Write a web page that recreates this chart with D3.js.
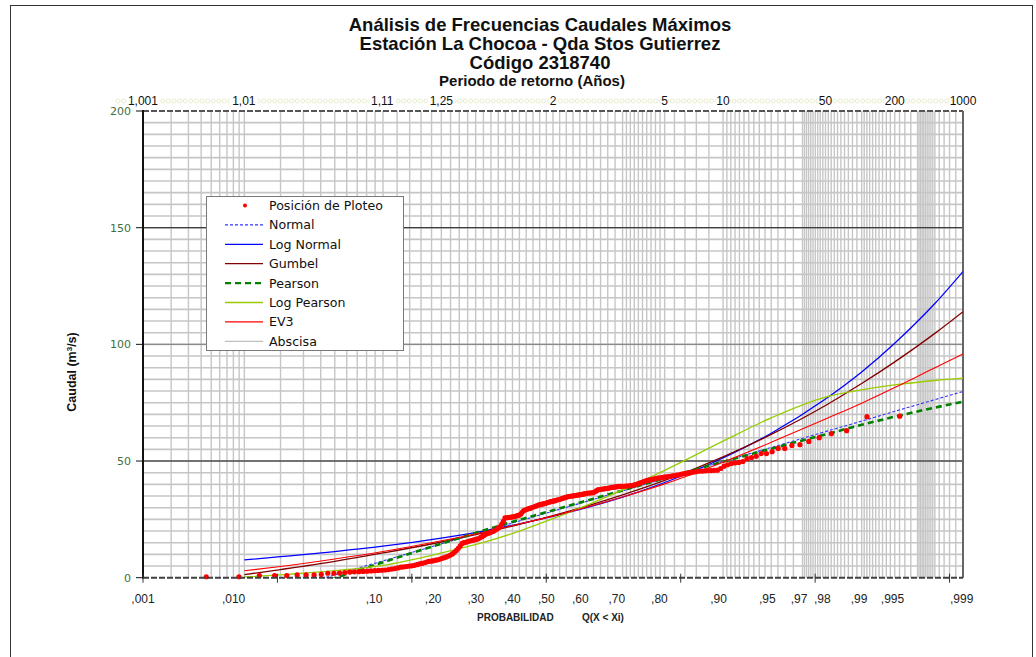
<!DOCTYPE html>
<html><head><meta charset="utf-8">
<script src="https://cdn.jsdelivr.net/npm/d3@7"></script>
<style>body{margin:0;background:#fff}svg{display:block}</style>
</head><body><svg id="c" width="1036" height="657"></svg>
<script>
// ---------------- DATA ----------------
// Observed maxima sorted ascending (plotted at Weibull position i/(n+1))
const plotPositionValues = [
 0.4,0.4,0.9,0.9,0.9,1.2,1.2,1.2,1.4,1.9,1.9,2.0,2.2,2.4,2.5,2.6,2.7,2.8,2.9,3.0,
 3.1,3.2,3.3,3.5,3.7,3.9,4.2,4.5,4.6,4.8,5.0,5.1,5.3,5.6,5.9,6.1,6.4,6.7,7.0,7.1,
 7.3,7.5,7.7,8.0,8.3,8.6,8.9,9.3,9.7,10.2,10.9,11.7,12.6,13.6,14.7,15.0,15.2,15.5,15.7,15.9,
 16.1,16.3,16.5,16.7,17.2,17.6,18.0,18.5,18.9,19.1,19.4,19.7,20.0,20.4,20.9,21.4,21.9,23.0,24.2,25.6,
 25.7,25.8,25.9,26.0,26.1,26.2,26.4,26.6,26.8,27.2,28.0,28.8,29.0,29.3,29.5,29.7,29.9,30.2,30.4,30.7,
 30.9,31.2,31.3,31.5,31.6,31.8,32.0,32.2,32.4,32.6,32.7,32.9,33.0,33.3,33.4,33.6,33.8,34.0,34.2,34.4,
 34.7,34.8,34.9,35.0,35.1,35.2,35.3,35.4,35.5,35.6,35.7,35.9,36.0,36.2,36.3,36.3,36.4,36.4,36.8,37.2,
 37.6,37.8,37.9,38.0,38.1,38.2,38.3,38.4,38.6,38.7,38.8,38.9,39.0,39.1,39.1,39.2,39.2,39.3,39.3,39.4,
 39.5,39.6,39.8,40.0,40.3,40.6,40.9,41.2,41.5,41.7,41.9,42.1,42.3,42.5,42.7,42.8,42.9,43.1,43.2,43.3,
 43.4,43.6,43.8,44.0,44.1,44.4,44.6,44.8,44.9,45.2,45.3,45.5,45.7,45.7,45.8,45.9,45.9,46.0,46.1,46.8,
 47.8,48.4,48.9,49.2,49.4,49.8,51.0,51.5,52.0,53.2,53.2,54.0,55.4,55.4,56.7,57.0,58.4,60.0,61.7,63.0,69.0,69.2
];
const fitProbs   = [0.01,0.02,0.05,0.1,0.2,0.3,0.4,0.5,0.6,0.7,0.8,0.9,0.95,0.98,0.99,0.995,0.998,0.999];
const normalVals = [-10.1,-5.6,1.2,7.2,14.5,19.8,24.3,28.5,32.7,37.2,42.5,49.8,55.8,62.6,67.1,71.3,76.3,79.8];
const logNormalVals = [7.6,9.0,11.2,13.5,17.0,20.0,23.1,26.3,30.0,34.5,40.8,51.3,61.9,76.6,88.2,100.5,117.5,131.2];
const gumbelVals = [1.3,3.5,7.0,10.6,15.3,19.2,22.9,26.6,30.7,35.5,41.7,51.8,61.4,73.8,83.2,92.5,104.7,114.0];
const pearsonVals = [-12.5,-7.6,-0.2,6.6,14.6,20.2,24.8,28.9,33.0,37.4,42.6,49.7,55.3,61.4,65.5,69.0,72.9,75.4];
const logPearsonVals = [0.3,1.2,3.0,5.3,10.6,15.1,20.0,25.3,31.0,37.6,46.0,58.5,68.5,77.4,80.5,82.6,84.5,85.5];
const ev3Vals = [3.0,4.8,8.0,11.2,15.8,19.5,23.0,26.4,30.2,34.6,40.2,49.5,58.0,68.0,74.8,81.5,90.0,95.9];

const probTickValues = [0.001,0.01,0.1,0.2,0.3,0.4,0.5,0.6,0.7,0.8,0.9,0.95,0.97,0.98,0.99,0.995,0.999];
const probTickLabels = [",001",",010",",10",",20",",30",",40",",50",",60",",70",",80",",90",",95",",97",",98",",99",",995",",999"];
const returnPeriods = [1.001,1.01,1.11,1.25,2,5,10,50,200,1000];
const returnLabels = ["1,001","1,01","1,11","1,25","2","5","10","50","200","1000"];
const yTicks = [0,50,100,150,200];
const axisZTicks = [-3,-2,-1,0,1,2,3];
// probability grid ranges [start, end, step]
const gridRanges = [[0.001,0.01,0.001],[0.01,0.1,0.01],[0.1,0.7,0.02],[0.7,0.8,0.01],[0.8,0.9,0.02],
  [0.9,0.97,0.005],[0.97,0.99,0.001],[0.99,0.997,0.0005],[0.997,0.998,0.0001],[0.998,0.999,0.0002]];

const seriesDefs = [
 {name:"Normal", vals:normalVals, color:"#3333ff", w:1.1, dash:"3,2"},
 {name:"Log Normal", vals:logNormalVals, color:"#0000ff", w:1.3, dash:null},
 {name:"Gumbel", vals:gumbelVals, color:"#800000", w:1.3, dash:null},
 {name:"Pearson", vals:pearsonVals, color:"#008000", w:2.6, dash:"6,4"},
 {name:"Log Pearson", vals:logPearsonVals, color:"#99cc00", w:1.3, dash:null},
 {name:"EV3", vals:ev3Vals, color:"#ff0000", w:1.1, dash:null}
];

// ---------------- SCALES ----------------
function probit(p){
 const a=[-3.969683028665376e+01,2.209460984245205e+02,-2.759285104469687e+02,1.383577518672690e+02,-3.066479806614716e+01,2.506628277459239e+00];
 const b=[-5.447609879822406e+01,1.615858368580409e+02,-1.556989798598866e+02,6.680131188771972e+01,-1.328068155288572e+01];
 const c=[-7.784894002430293e-03,-3.223964580411365e-01,-2.400758277161838e+00,-2.549732539343734e+00,4.374664141464968e+00,2.938163982698783e+00];
 const d=[7.784695709041462e-03,3.224671290700398e-01,2.445134137142996e+00,3.754408661907416e+00];
 const pl=0.02425, ph=1-pl; let q,r;
 if(p<pl){q=Math.sqrt(-2*Math.log(p));return (((((c[0]*q+c[1])*q+c[2])*q+c[3])*q+c[4])*q+c[5])/((((d[0]*q+d[1])*q+d[2])*q+d[3])*q+1);}
 if(p<=ph){q=p-0.5;r=q*q;return (((((a[0]*r+a[1])*r+a[2])*r+a[3])*r+a[4])*r+a[5])*q/(((((b[0]*r+b[1])*r+b[2])*r+b[3])*r+b[4])*r+1);}
 q=Math.sqrt(-2*Math.log(1-p));return -(((((c[0]*q+c[1])*q+c[2])*q+c[3])*q+c[4])*q+c[5])/((((d[0]*q+d[1])*q+d[2])*q+d[3])*q+1);
}
const L=143, R=963, T=111, B=577.7;
const zScale = d3.scaleLinear().domain([probit(0.001), probit(0.999)]).range([L, R]);
const x = p => zScale(probit(p));
const axisScale = d3.scaleLinear().domain([-3, 3.1]).range([L, R]).clamp(true);
const y = d3.scaleLinear().domain([0, 200]).range([B, T]);

const svg = d3.select("#c");
svg.append("rect").attr("x",10.5).attr("y",5.5).attr("width",1022).attr("height",660).attr("fill","#fff").attr("stroke","#333").attr("stroke-width",1);

// ---------------- GRID ----------------
const gridProbs = [];
gridRanges.forEach(([s,e,st])=>{ const n=Math.round((e-s)/st); for(let k=0;k<=n;k++) gridProbs.push(+(s+k*st).toFixed(5)); });
const g = svg.append("g");
g.selectAll("line.vg").data(Array.from(new Set(gridProbs))).join("line").attr("class","vg")
 .attr("x1",d=>x(d)).attr("x2",d=>x(d)).attr("y1",T).attr("y2",B)
 .attr("stroke","#c6c6c6").attr("stroke-width",1.4);
g.selectAll("line.hg").data(d3.range(5,200,5)).join("line").attr("class","hg")
 .attr("x1",L).attr("x2",R).attr("y1",d=>y(d)).attr("y2",d=>y(d))
 .attr("stroke","#c6c6c6").attr("stroke-width",1.6);
g.selectAll("line.major").data([50,100,150]).join("line").attr("class","major")
 .attr("x1",L).attr("x2",R).attr("y1",d=>y(d)).attr("y2",d=>y(d))
 .attr("stroke",d=>d===100?"#8a8a8a":"#111").attr("stroke-width",d=>d===100?1.4:1.1);

// frame lines
svg.append("line").attr("x1",L).attr("x2",R).attr("y1",T).attr("y2",T).attr("stroke","#555").attr("stroke-width",2).attr("stroke-dasharray","6,2");
svg.append("line").attr("x1",R).attr("x2",R).attr("y1",T).attr("y2",B).attr("stroke","#666").attr("stroke-width",2);

// ---------------- CURVES ----------------
svg.append("clipPath").attr("id","clip").append("rect").attr("x",L).attr("y",T).attr("width",R-L).attr("height",B-T);
const line = d3.line().x(d=>x(d[0])).y(d=>y(d[1])).curve(d3.curveMonotoneX);
const cg = svg.append("g").attr("clip-path","url(#clip)");
seriesDefs.forEach(s=>{
  cg.append("path").datum(fitProbs.map((p,i)=>[p,s.vals[i]]))
   .attr("d",line).attr("fill","none").attr("stroke",s.color).attr("stroke-width",s.w)
   .attr("stroke-dasharray",s.dash);
});

// observed points
const n = plotPositionValues.length;
svg.append("g").selectAll("circle").data(plotPositionValues).join("circle")
 .attr("cx",(d,i)=>x((i+1)/(n+1))).attr("cy",d=>y(d)).attr("r",2.6).attr("fill","#ff0000");

// ---------------- AXES ----------------
svg.append("line").attr("x1",L).attr("x2",L).attr("y1",T-1).attr("y2",B+1).attr("stroke","#111").attr("stroke-width",2);
svg.append("g").selectAll("line").data(yTicks).join("line")
 .attr("x1",L-7).attr("x2",L).attr("y1",d=>y(d)).attr("y2",d=>y(d)).attr("stroke","#111").attr("stroke-width",1);
svg.append("g").selectAll("text").data(yTicks).join("text")
 .attr("x",L-12).attr("y",d=>y(d)+4).attr("text-anchor","end")
 .attr("font-family","DejaVu Sans").attr("font-size",11).attr("fill","#3f6f3f").text(d=>d);
svg.append("line").attr("x1",L).attr("x2",R).attr("y1",B).attr("y2",B).attr("stroke","#404040").attr("stroke-width",2).attr("stroke-dasharray","6,2");
svg.append("g").selectAll("line").data(axisZTicks).join("line")
 .attr("x1",d=>axisScale(d)).attr("x2",d=>axisScale(d)).attr("y1",B-4).attr("y2",B+5).attr("stroke","#333").attr("stroke-width",1);
svg.append("g").selectAll("text").data(probTickValues).join("text")
 .attr("x",d=>axisScale(probit(d))).attr("y",603).attr("text-anchor","middle")
 .attr("font-family","Liberation Sans").attr("font-size",12).attr("fill","#222")
 .text((d,i)=>probTickLabels[i]);
svg.append("text").attr("x",477).attr("y",621).attr("font-family","Liberation Sans").attr("font-weight","bold").attr("font-size",10).attr("fill","#222").text("PROBABILIDAD");
svg.append("text").attr("x",582).attr("y",621).attr("font-family","Liberation Sans").attr("font-weight","bold").attr("font-size",10).attr("fill","#222").text("Q(X < Xi)");

// top return-period axis
const topG = svg.append("g");
topG.selectAll("circle").data(d3.range(118, 968, 5.6)).join("circle")
 .attr("cx",d=>d).attr("cy",101).attr("r",2).attr("fill","none").attr("stroke","#dfeac2").attr("stroke-width",0.8);
const tl = topG.selectAll("g.tl").data(returnPeriods).join("g").attr("class","tl");
tl.append("rect").attr("x",(d,i)=>x(1-1/d)-returnLabels[i].length*3.4).attr("y",94)
 .attr("width",(d,i)=>returnLabels[i].length*6.8).attr("height",13).attr("fill","#fff");
tl.append("text").attr("x",d=>x(1-1/d)).attr("y",105).attr("text-anchor","middle")
 .attr("font-family","Liberation Sans").attr("font-size",12).attr("fill","#111").text((d,i)=>returnLabels[i]);

// ---------------- TITLES ----------------
const titles = ["Análisis de Frecuencias Caudales Máximos","Estación La Chocoa - Qda Stos Gutierrez","Código 2318740"];
svg.append("g").selectAll("text").data(titles).join("text")
 .attr("x",540).attr("y",(d,i)=>31+i*19).attr("text-anchor","middle")
 .attr("font-family","Liberation Sans").attr("font-weight","bold").attr("font-size",18.5).attr("fill","#111").text(d=>d);
svg.append("text").attr("x",532).attr("y",86).attr("text-anchor","middle")
 .attr("font-family","Liberation Sans").attr("font-weight","bold").attr("font-size",15).attr("fill","#111").text("Periodo de retorno (Años)");
svg.append("text").attr("transform","translate(76,372) rotate(-90)").attr("text-anchor","middle")
 .attr("font-family","Liberation Sans").attr("font-weight","bold").attr("font-size",12.5).attr("fill","#111")
 .html('Caudal (m<tspan dy="-4" font-size="8">3</tspan><tspan dy="4">/s)</tspan>');

// ---------------- LEGEND ----------------
const lg = svg.append("g");
lg.append("rect").attr("x",206.5).attr("y",196.5).attr("width",197).attr("height",154).attr("fill","#fff").attr("stroke","#7a7a7a");
const legendItems = [{name:"Posición de Ploteo",point:true}].concat(seriesDefs).concat([{name:"Abscisa",color:"#c0c0c0",w:1.3}]);
const li = lg.selectAll("g.li").data(legendItems).join("g").attr("class","li")
 .attr("transform",(d,i)=>`translate(0,${205.5+i*19.4})`);
li.filter(d=>d.point).append("circle").attr("cx",245).attr("cy",0).attr("r",2).attr("fill","#ff0000");
li.filter(d=>!d.point).append("line").attr("x1",225).attr("x2",263).attr("y1",0).attr("y2",0)
 .attr("stroke",d=>d.color).attr("stroke-width",d=>Math.min(d.w,2.4)).attr("stroke-dasharray",d=>d.dash||null);
li.append("text").attr("x",269).attr("y",4.5).attr("font-family","DejaVu Sans").attr("font-size",12.6).attr("fill","#111").text(d=>d.name);
</script></body></html>
